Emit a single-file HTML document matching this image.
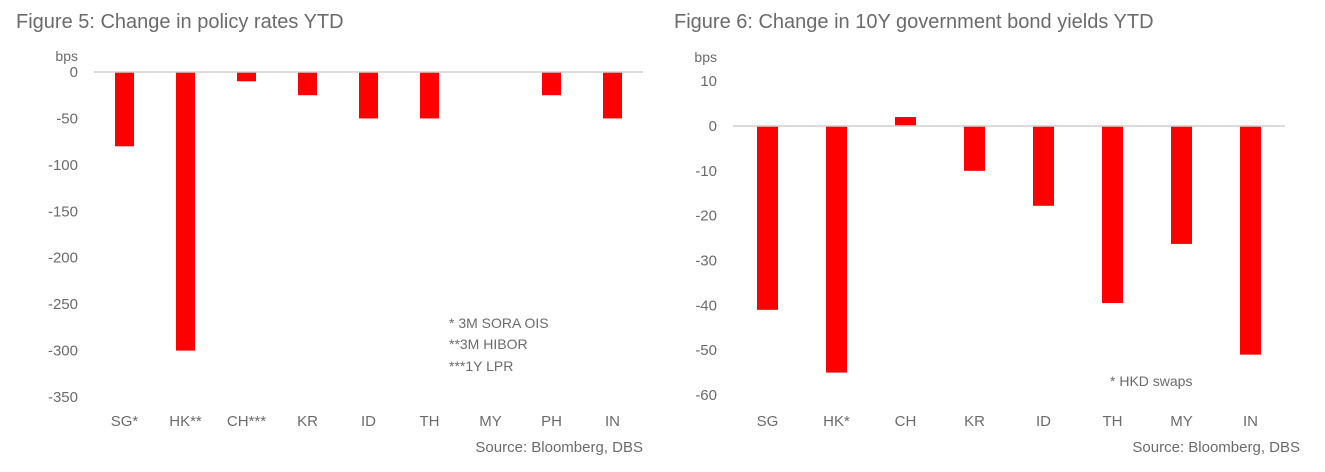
<!DOCTYPE html>
<html><head><meta charset="utf-8"><style>
body{margin:0;background:#fff;width:1325px;height:467px;overflow:hidden;font-family:"Liberation Sans",sans-serif}
svg text{font-family:"Liberation Sans",sans-serif;fill:#6b6b6b}
</style></head><body>
<svg width="1325" height="467">
<text x="16" y="28" font-size="20">Figure 5: Change in policy rates YTD</text>
<text x="674" y="28" font-size="20">Figure 6: Change in 10Y government bond yields YTD</text>
<g id="left"></g>
<g id="right"></g>
<text x="449" y="328" font-size="14">* 3M SORA OIS</text>
<text x="449" y="349" font-size="14">**3M HIBOR</text>
<text x="449" y="371" font-size="14">***1Y LPR</text>
<text x="1110" y="386" font-size="14">* HKD swaps</text>
<text x="643" y="452" font-size="15" text-anchor="end">Source: Bloomberg, DBS</text>
<text x="1300" y="452" font-size="15" text-anchor="end">Source: Bloomberg, DBS</text>
</svg>
<script>
const leftCats=["SG*","HK**","CH***","KR","ID","TH","MY","PH","IN"];
const leftVals=[-80,-300,-10,-25,-50,-50,0,-25,-50];
const leftTicks=[0,-50,-100,-150,-200,-250,-300,-350];
const rightCats=["SG","HK*","CH","KR","ID","TH","MY","IN"];
const rightVals=[-41,-55,2,-10,-17.8,-39.5,-26.3,-51];
const rightTicks=[10,0,-10,-20,-30,-40,-50,-60];
const NS="http://www.w3.org/2000/svg";
function el(g,t,a,txt){const e=document.createElementNS(NS,t);for(const k in a)e.setAttribute(k,a[k]);if(txt!==undefined)e.textContent=txt;g.appendChild(e);return e;}
function draw(id,cats,vals,ticks,o){
 const g=document.getElementById(id);
 const y=v=>o.y0+(v-0)*(o.yMin-o.y0)/o.vMin;
 const x=i=>o.x0+o.step*(i+0.5);
 const yl=el(g,"text",{x:o.tx,y:o.bpsY,"font-size":14,"text-anchor":"end"},"bps");
 
 
 ticks.forEach(t=>{const e=el(g,"text",{x:o.tx,y:y(t)+5,"font-size":15,"text-anchor":"end"},t);
  
  });
 vals.forEach((v,i)=>{const top=Math.min(y(v),y(0)),h=Math.abs(y(v)-y(0));
  const r=el(g,"rect",{x:x(i)-o.bw/2,y:top,width:o.bw,height:h,fill:"#ff0000"});
  
  });
 const ax=el(g,"line",{x1:o.x0,x2:o.x0+o.step*cats.length,y1:y(0),y2:y(0),stroke:"#d0d0d0","stroke-width":1.5});
 
 
 cats.forEach((c,i)=>{const e=el(g,"text",{x:x(i),y:o.labY,"font-size":15,"text-anchor":"middle"},c);
  
  });
}
draw("left",leftCats,leftVals,leftTicks,{x0:94,step:61,bw:19,y0:72,yMin:397,vMin:-350,tx:78,bpsY:61,labY:426});
draw("right",rightCats,rightVals,rightTicks,{x0:733,step:69,bw:21,y0:126,yMin:395,vMin:-60,tx:717,bpsY:62,labY:426});
</script>
</body></html>
